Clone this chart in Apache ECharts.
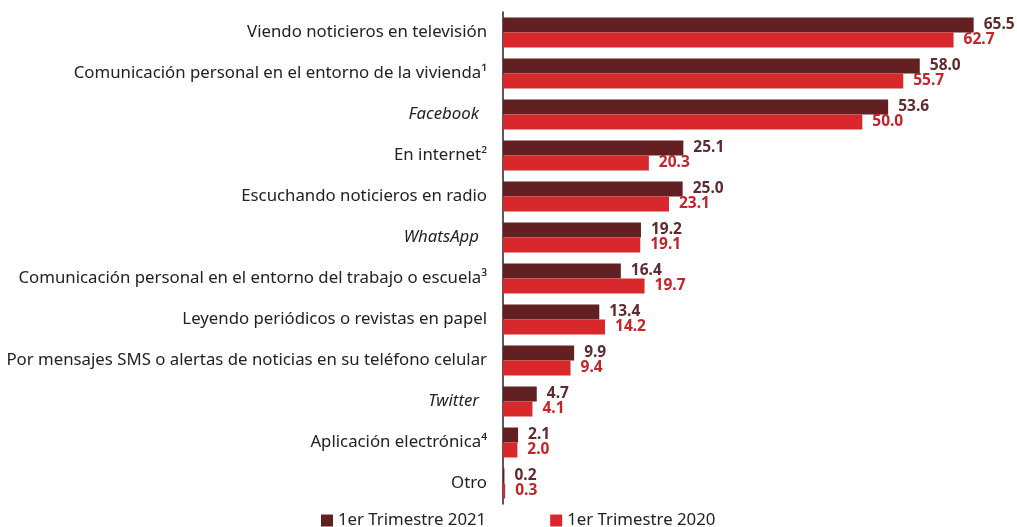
<!DOCTYPE html>
<html><head><meta charset="utf-8">
<script src="https://cdn.jsdelivr.net/npm/echarts@6/dist/echarts.min.js"></script>
<style>html,body{margin:0;padding:0;background:#fff}#c{width:1017px;height:527px}</style>
</head><body><div id="c"></div>
<script>
const categories = [
  "Viendo noticieros en televisión",
  "Comunicación personal en el entorno de la vivienda¹",
  "Facebook",
  "En internet²",
  "Escuchando noticieros en radio",
  "WhatsApp",
  "Comunicación personal en el entorno del trabajo o escuela³",
  "Leyendo periódicos o revistas en papel",
  "Por mensajes SMS o alertas de noticias en su teléfono celular",
  "Twitter",
  "Aplicación electrónica⁴",
  "Otro"
];
const italicCats = ["Facebook", "WhatsApp", "Twitter"];
const series2021 = [65.5, 58.0, 53.6, 25.1, 25.0, 19.2, 16.4, 13.4, 9.9, 4.7, 2.1, 0.2];
const series2020 = [62.7, 55.7, 50.0, 20.3, 23.1, 19.1, 19.7, 14.2, 9.4, 4.1, 2.0, 0.3];
const seriesNames = ["1er Trimestre 2021", "1er Trimestre 2020"];

const FONT = "Noto Sans";
const chart = echarts.init(document.getElementById('c'), null, {renderer: 'canvas'});
chart.setOption({
  animation: false,
  backgroundColor: '#fff',
  grid: {left: 503, right: 11, top: 12, bottom: 23, containLabel: false},
  legend: {
    top: 507, left: 316, itemGap: 64, itemWidth: 12, itemHeight: 12,
    icon: 'rect',
    textStyle: {fontFamily: FONT, fontSize: 16.8, color: '#222'},
    data: seriesNames
  },
  xAxis: {type: 'value', min: 0, max: 70, show: false},
  yAxis: {
    type: 'category', inverse: true, data: categories,
    axisLine: {lineStyle: {color: '#222', width: 1.5}},
    axisTick: {length: 5, lineStyle: {color: '#222', width: 1.5}},
    axisLabel: {
      margin: 16, fontFamily: FONT, fontSize: 16.8, color: '#222',
      formatter: v => italicCats.includes(v) ? '{i|' + v + '}' : v,
      rich: {i: {fontStyle: 'italic', fontFamily: FONT, fontSize: 16.8, color: '#222', padding: [0, 8, 0, 0]}}
    }
  },
  series: [
    {
      name: seriesNames[0], type: 'bar', data: series2021, barWidth: 15, barGap: '0%',
      itemStyle: {color: '#632023'},
      label: {show: true, position: 'right', distance: 10, formatter: p => p.value.toFixed(1),
        fontFamily: FONT, fontWeight: 'bold', fontSize: 15.5, color: '#5e2a2d'}
    },
    {
      name: seriesNames[1], type: 'bar', data: series2020, barWidth: 15,
      itemStyle: {color: '#d9282c'},
      label: {show: true, position: 'right', distance: 10, formatter: p => p.value.toFixed(1),
        fontFamily: FONT, fontWeight: 'bold', fontSize: 15.5, color: '#c4232a'}
    }
  ]
});
</script></body></html>
